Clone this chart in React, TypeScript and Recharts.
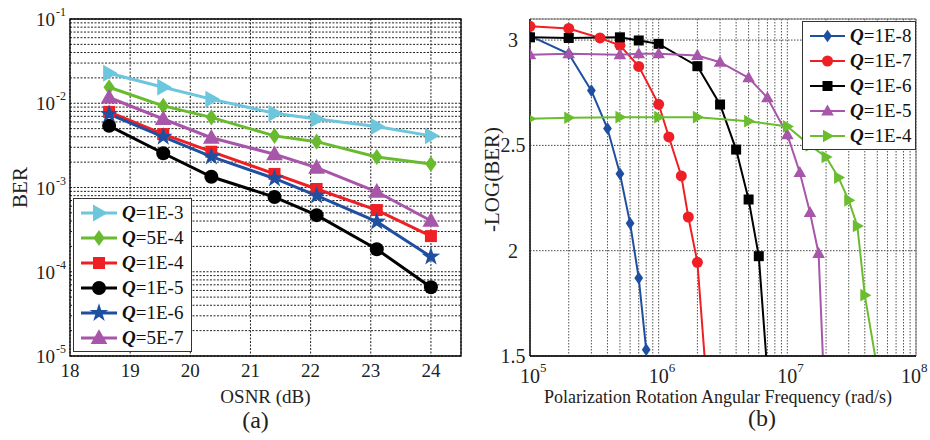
import React from "react";
import {
	LineChart,
	Line,
	XAxis,
	YAxis,
	CartesianGrid,
	Legend,
	ReferenceArea,
	Label,
} from "recharts";

const FONT = '"Liberation Serif", "Times New Roman", serif';

// ---- (a) BER vs OSNR ----
const osnr = [18.65, 19.55, 20.35, 21.4, 22.1, 23.1, 24.0];
const berQ1e3 = [0.0227, 0.0155, 0.0112, 0.0076, 0.0065, 0.0053, 0.0041];
const berQ5e4 = [0.0155, 0.0093, 0.0068, 0.0041, 0.0035, 0.0023, 0.0019];
const berQ1e4 = [0.0079, 0.0043, 0.00266, 0.00145, 0.00096, 0.00054, 0.000265];
const berQ1e5 = [0.0054, 0.00255, 0.00134, 0.00077, 0.00047, 0.000185, 0.0000655];
const berQ1e6 = [0.00745, 0.004, 0.00232, 0.00128, 0.0008, 0.000393, 0.000151];
const berQ5e7 = [0.0117, 0.0065, 0.0039, 0.00248, 0.00172, 0.00089, 0.000403];

const osnrTicks = [18, 19, 20, 21, 22, 23, 24];
const berDecades = [1e-5, 1e-4, 1e-3, 1e-2];
const minorSteps = [1, 2, 3, 4, 5, 6, 7, 8, 9];
const berTicks = [...berDecades.flatMap((d) => minorSteps.map((m) => m * d)), 1e-1];

// ---- (b) -LOG(BER) vs rotation frequency ----
const freqQ1e8 = [1e5, 2e5, 3e5, 4e5, 5e5, 6e5, 7e5, 8e5];
const logQ1e8 = [3.02, 2.935, 2.76, 2.58, 2.365, 2.13, 1.87, 1.53];
const freqQ1e7 = [1e5, 2e5, 3.5e5, 5e5, 7e5, 1e6, 1.2e6, 1.5e6, 1.7e6, 2e6, 2.4e6];
const logQ1e7 = [3.065, 3.055, 3.01, 2.975, 2.875, 2.695, 2.54, 2.355, 2.16, 1.945, 1.31];
const freqQ1e6 = [1e5, 2e5, 5e5, 7e5, 1e6, 2e6, 3e6, 4e6, 5e6, 6e6, 7e6];
const logQ1e6 = [3.013, 3.01, 3.013, 2.998, 2.982, 2.876, 2.694, 2.48, 2.243, 1.974, 1.42];
const freqQ1e5 = [1e5, 2e5, 5e5, 7e5, 1e6, 2e6, 3e6, 5e6, 7e6, 1e7, 1.25e7, 1.5e7, 1.75e7, 2e7];
const logQ1e5 = [2.93, 2.935, 2.93, 2.935, 2.935, 2.927, 2.895, 2.821, 2.726, 2.551, 2.371, 2.181, 1.987, 1.13];
const freqQ1e4 = [1e5, 2e5, 5e5, 1e6, 2e6, 5e6, 1e7, 1.5e7, 2e7, 2.5e7, 3e7, 3.5e7, 4e7, 5e7];
const logQ1e4 = [2.626, 2.631, 2.634, 2.634, 2.634, 2.615, 2.59, 2.5, 2.445, 2.347, 2.239, 2.117, 1.789, 1.44];

const freqDecades = [1e5, 1e6, 1e7];
const freqTicks = [...freqDecades.flatMap((d) => minorSteps.map((m) => m * d)), 1e8];
const logBerTicks = [1.5, 2, 2.5, 3];

type Shape = "circle" | "square" | "diamond" | "triUp" | "triRight" | "star";

function Marker({ shape, x, y, size, color }: { shape: Shape; x: number; y: number; size: number; color: string }) {
	const h = size / 2;
	if (shape === "circle") return <circle cx={x} cy={y} r={h} fill={color} />;
	if (shape === "square") return <rect x={x - h} y={y - h} width={size} height={size} fill={color} />;
	if (shape === "diamond")
		return <polygon points={`${x},${y - h * 1.15} ${x + h * 0.8},${y} ${x},${y + h * 1.15} ${x - h * 0.8},${y}`} fill={color} />;
	if (shape === "triUp")
		return <polygon points={`${x},${y - h * 1.1} ${x + h * 1.05},${y + h * 0.75} ${x - h * 1.05},${y + h * 0.75}`} fill={color} />;
	if (shape === "triRight")
		return <polygon points={`${x + h * 1.1},${y} ${x - h * 0.75},${y - h * 1.05} ${x - h * 0.75},${y + h * 1.05}`} fill={color} />;
	const pts: string[] = [];
	for (let i = 0; i < 10; i++) {
		const r = i % 2 === 0 ? h * 1.15 : h * 0.45;
		const a = -Math.PI / 2 + (i * Math.PI) / 5;
		pts.push(`${x + r * Math.cos(a)},${y + r * Math.sin(a)}`);
	}
	return <polygon points={pts.join(" ")} fill={color} />;
}

const makeDot = (shape: Shape, color: string, size: number, minY = -Infinity) => (props: any) => {
	const { cx, cy, index, payload } = props;
	if (cx == null || cy == null || payload.y < minY) return <g key={`d-${index}`} />;
	return <Marker key={`d-${index}`} shape={shape} x={cx} y={cy} size={size} color={color} />;
};

const berSeries: { label: string; x: number[]; y: number[]; color: string; shape: Shape; size: number }[] = [
	{ label: "1E-3", x: osnr, y: berQ1e3, color: "#6cc6dc", shape: "triRight", size: 16 },
	{ label: "5E-4", x: osnr, y: berQ5e4, color: "#68bb2e", shape: "diamond", size: 14 },
	{ label: "1E-4", x: osnr, y: berQ1e4, color: "#ee1f25", shape: "square", size: 12 },
	{ label: "1E-5", x: osnr, y: berQ1e5, color: "#000000", shape: "circle", size: 14 },
	{ label: "1E-6", x: osnr, y: berQ1e6, color: "#1f4fa0", shape: "star", size: 17 },
	{ label: "5E-7", x: osnr, y: berQ5e7, color: "#a756a9", shape: "triUp", size: 16 },
];

const freqSeries: { label: string; x: number[]; y: number[]; color: string; shape: Shape; size: number; width: number }[] = [
	{ label: "1E-8", x: freqQ1e8, y: logQ1e8, color: "#1f4fa0", shape: "diamond", size: 11, width: 2 },
	{ label: "1E-7", x: freqQ1e7, y: logQ1e7, color: "#ee1f25", shape: "circle", size: 11, width: 2 },
	{ label: "1E-6", x: freqQ1e6, y: logQ1e6, color: "#000000", shape: "square", size: 10, width: 2 },
	{ label: "1E-5", x: freqQ1e5, y: logQ1e5, color: "#a756a9", shape: "triUp", size: 12, width: 2 },
	{ label: "1E-4", x: freqQ1e4, y: logQ1e4, color: "#6abd2d", shape: "triRight", size: 12, width: 2 },
];

const toRows = (xs: number[], ys: number[]) => xs.map((x, i) => ({ x, y: ys[i] }));

const isDecade = (v: number) => {
	const e = Math.round(Math.log10(v));
	return Math.abs(v / Math.pow(10, e) - 1) < 1e-6;
};

function BerTick(props: any) {
	const { x, y, payload } = props;
	if (!isDecade(payload.value)) return <g />;
	const e = Math.round(Math.log10(payload.value));
	return (
		<g fontFamily={FONT} fill="#222">
			<text x={x - 15} y={y + 7} textAnchor="end" fontSize={19}>10</text>
			<text x={x - 14} y={y - 3} textAnchor="start" fontSize={12}>{`${e}`}</text>
		</g>
	);
}

function OsnrTick(props: any) {
	const { x, y, payload } = props;
	return (
		<text x={x} y={y + 21} textAnchor="middle" fontSize={19} fontFamily={FONT} fill="#222">
			{payload.value}
		</text>
	);
}

function FreqTick(props: any) {
	const { x, y, payload } = props;
	if (!isDecade(payload.value)) return <g />;
	const e = Math.round(Math.log10(payload.value));
	// keep the last label inside the page edge
	const shift = e === 8 ? -5 : 0;
	return (
		<g fontFamily={FONT} fill="#222">
			<text x={x + shift} y={y + 27} textAnchor="middle" fontSize={20}>10</text>
			<text x={x + shift + 10} y={y + 16} textAnchor="start" fontSize={13}>{`${e}`}</text>
		</g>
	);
}

function LogBerTick(props: any) {
	const { x, y, payload } = props;
	return (
		<text x={x - 17} y={y + 7} textAnchor="middle" fontSize={20} fontFamily={FONT} fill="#222">
			{payload.value}
		</text>
	);
}

function LegendBox({ items, swatch, lineWidth }: { items: { label: string; color: string; shape: Shape; size: number }[]; swatch: number; lineWidth: number }) {
	return (
		<div
			style={{
				border: "1px solid #333",
				background: "#fff",
				padding: "1px 0 1px 7px",
				fontFamily: FONT,
				fontSize: 19,
				color: "#111",
			}}
		>
			{items.map((it) => (
				<div key={it.label} style={{ display: "flex", alignItems: "center", height: 25, whiteSpace: "nowrap" }}>
					<svg width={swatch} height={22} style={{ display: "block" }}>
						<line x1={0} y1={11} x2={swatch} y2={11} stroke={it.color} strokeWidth={lineWidth} />
						<Marker shape={it.shape} x={swatch / 2} y={11} size={it.size} color={it.color} />
					</svg>
					<span style={{ marginLeft: 5 }}>
						<b>
							<i>Q</i>
						</b>
						={it.label}
					</span>
				</div>
			))}
		</div>
	);
}

function BerChart() {
	return (
		<LineChart width={470} height={440} margin={{ top: 19, right: 9, bottom: 54, left: 10 }}>
			<CartesianGrid stroke="#222" strokeDasharray="2 1.5" />
			<XAxis
				type="number"
				dataKey="x"
				domain={[18, 24.5]}
				ticks={osnrTicks}
				interval={0}
				allowDataOverflow
				axisLine={false}
				tickLine={false}
				tickSize={0}
				tickMargin={0}
				height={30}
				tick={OsnrTick}
			>
				<Label
					content={(p: any) => {
						const vb = p.viewBox || { x: 70, y: 356, width: 391 };
						const cx = vb.x + vb.width / 2;
						return (
							<g fontFamily={FONT} fill="#222">
								<text x={cx} y={vb.y + 47} textAnchor="middle" fontSize={19}>OSNR (dB)</text>
								<text x={cx - 10} y={vb.y + 72} textAnchor="middle" fontSize={24}>(a)</text>
							</g>
						);
					}}
				/>
			</XAxis>
			<YAxis
				type="number"
				scale="log"
				domain={[1e-5, 1e-1]}
				ticks={berTicks}
				interval={0}
				allowDataOverflow
				width={60}
				axisLine={false}
				tickLine={false}
				tickSize={0}
				tickMargin={0}
				tick={BerTick}
			>
				<Label
					content={(p: any) => {
						const vb = p.viewBox || { x: 10, y: 19, height: 337 };
						const cy = vb.y + vb.height / 2;
						return (
							<text x={20} y={cy} transform={`rotate(-90 20 ${cy})`} textAnchor="middle" dominantBaseline="central" fontSize={21} fontFamily={FONT} fill="#222">
								BER
							</text>
						);
					}}
				/>
			</YAxis>
			<ReferenceArea x1={18} x2={24.5} y1={1e-5} y2={1e-1} fill="none" stroke="#000" strokeWidth={1.3} ifOverflow="visible" />
			<Legend
				layout="vertical"
				align="center"
				verticalAlign="middle"
				wrapperStyle={{ left: 73, top: 198, width: 119 }}
				content={() => <LegendBox items={berSeries} swatch={36} lineWidth={3} />}
			/>
			{berSeries.map((s) => (
				<Line
					key={s.label}
					data={toRows(s.x, s.y)}
					dataKey="y"
					type="linear"
					stroke={s.color}
					strokeWidth={3}
					dot={makeDot(s.shape, s.color, s.size)}
					activeDot={false}
					legendType="none"
					isAnimationActive={false}
				/>
			))}
		</LineChart>
	);
}

function FreqChart() {
	return (
		<LineChart width={460} height={440} margin={{ top: 19, right: 14, bottom: 54, left: 10 }}>
			<CartesianGrid horizontal={false} stroke="#555" strokeDasharray="1.5 1.5" />
			<CartesianGrid vertical={false} stroke="#444" strokeDasharray="1.5 1.5" />
			<XAxis
				type="number"
				dataKey="x"
				scale="log"
				domain={[1e5, 1e8]}
				ticks={freqTicks}
				interval={0}
				allowDataOverflow
				axisLine={{ stroke: "#000", strokeWidth: 1.3 }}
				tickLine={false}
				tickSize={0}
				tickMargin={0}
				height={30}
				tick={FreqTick}
			>
				<Label
					content={(p: any) => {
						const vb = p.viewBox || { x: 60, y: 356, width: 386 };
						const cx = vb.x + vb.width / 2;
						return (
							<g fontFamily={FONT} fill="#222">
								<text x={cx - 5} y={vb.y + 47} textAnchor="middle" fontSize={18}>
									Polarization Rotation Angular Frequency (rad/s)
								</text>
								<text x={cx + 39} y={vb.y + 70} textAnchor="middle" fontSize={24}>(b)</text>
							</g>
						);
					}}
				/>
			</XAxis>
			<YAxis
				type="number"
				domain={[1.5, 3.1]}
				ticks={logBerTicks}
				interval={0}
				allowDataOverflow
				width={50}
				axisLine={{ stroke: "#000", strokeWidth: 1.3 }}
				tickLine={false}
				tickSize={0}
				tickMargin={0}
				tick={LogBerTick}
			>
				<Label
					content={(p: any) => {
						const vb = p.viewBox || { x: 10, y: 19, height: 337 };
						const cy = vb.y + vb.height / 2 - 8;
						return (
							<text x={22} y={cy} transform={`rotate(-90 22 ${cy})`} textAnchor="middle" dominantBaseline="central" fontSize={21} fontFamily={FONT} fill="#222">
								-LOG(BER)
							</text>
						);
					}}
				/>
			</YAxis>
			<ReferenceArea x1={1e5} x2={1e8} y1={1.5} y2={3.1} fill="none" stroke="#777" strokeWidth={1} ifOverflow="visible" />
			{freqSeries.map((s) => (
				<Line
					key={s.label}
					data={toRows(s.x, s.y)}
					dataKey="y"
					type="linear"
					stroke={s.color}
					strokeWidth={s.width}
					dot={makeDot(s.shape, s.color, s.size, 1.5)}
					activeDot={false}
					legendType="none"
					isAnimationActive={false}
				/>
			))}
			<Legend
				layout="vertical"
				align="center"
				verticalAlign="middle"
				wrapperStyle={{ left: 332, top: 21, width: 114 }}
				content={() => <LegendBox items={freqSeries} swatch={35} lineWidth={2} />}
			/>
		</LineChart>
	);
}

export default function App() {
	return (
		<div style={{ position: "absolute", left: 0, top: 0, width: 930, height: 440, background: "#fff" }}>
			<div style={{ position: "absolute", left: 0, top: 0 }}>
				<BerChart />
			</div>
			<div style={{ position: "absolute", left: 470, top: 0 }}>
				<FreqChart />
			</div>
		</div>
	);
}
